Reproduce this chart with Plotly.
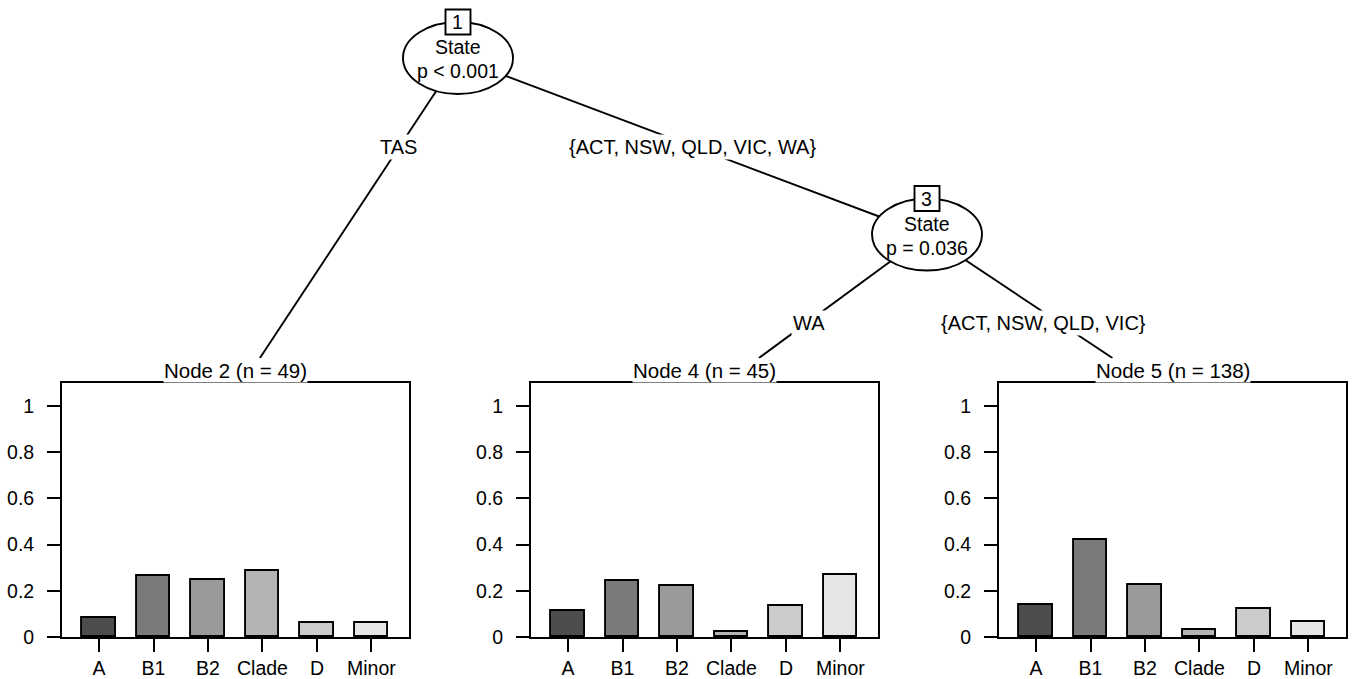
import plotly.graph_objects as go

W, H = 1355, 679          # reference picture size (layout coordinates)
FIG_H = 690               # rendered height (capture is compressed vertically to 679)

categories = ["A", "B1", "B2", "Clade", "D", "Minor"]
node2_props = [0.082, 0.265, 0.245, 0.286, 0.061, 0.061]
node4_props = [0.111, 0.244, 0.222, 0.022, 0.133, 0.267]
node5_props = [0.138, 0.420, 0.225, 0.029, 0.123, 0.065]
bar_colors = ["#4D4D4D", "#7A7A7A", "#9A9A9A", "#B4B4B4", "#CBCBCB", "#E6E6E6"]
panel_titles = ["Node 2 (n = 49)", "Node 4 (n = 45)", "Node 5 (n = 138)"]
y_ticks = [0, 0.2, 0.4, 0.6, 0.8, 1]
y_tick_text = ["0", "0.2", "0.4", "0.6", "0.8", "1"]

inner_nodes = [
    {"id": "1", "var": "State", "p": "p < 0.001", "cx": 458, "cy": 58},
    {"id": "3", "var": "State", "p": "p = 0.036", "cx": 927, "cy": 234.5},
]
edge_labels = ["TAS", "{ACT, NSW, QLD, VIC, WA}", "WA", "{ACT, NSW, QLD, VIC}"]

FONT = "Liberation Sans, Arial, Helvetica, sans-serif"
FS = 19.5
FS_LAB = 20
LW = 1.9


def fx(x):
    return x / W


def fy(y):
    return 1 - y / H


panel_left = [62, 531, 999]
panel_w = 347
panel_top, panel_bot = 383, 637

fig = go.Figure()
series = [node2_props, node4_props, node5_props]
for i, vals in enumerate(series):
    ax = "" if i == 0 else str(i + 1)
    fig.add_trace(go.Bar(
        x=categories, y=vals, width=0.62,
        marker=dict(color=bar_colors, line=dict(color="black", width=LW)),
        xaxis="x" + ax, yaxis="y" + ax, showlegend=False, hoverinfo="x+y",
    ))
    axis_common = dict(showline=True, mirror=True, linecolor="black", linewidth=LW,
                       ticks="outside", ticklen=13, tickwidth=LW, tickcolor="black",
                       showgrid=False, zeroline=False,
                       tickfont=dict(family=FONT, size=FS, color="black"))
    fig.update_layout(**{
        "xaxis" + ax: dict(domain=[fx(panel_left[i]), fx(panel_left[i] + panel_w)],
                           anchor="y" + ax, range=[-0.68, 5.69], type="category",
                           **axis_common),
        "yaxis" + ax: dict(domain=[fy(panel_bot), fy(panel_top)], anchor="x" + ax,
                           range=[0, 1.1], tickvals=y_ticks, ticktext=y_tick_text,
                           ticklabelstandoff=9, **axis_common),
    })

shapes = []
annotations = []

leaf_cx = [l + panel_w / 2 for l in panel_left]
n1, n3 = inner_nodes
edges = [
    ((n1["cx"], n1["cy"]), (leaf_cx[0], 395), True),
    ((n1["cx"], n1["cy"]), (n3["cx"], n3["cy"]), False),
    ((n3["cx"], n3["cy"]), (leaf_cx[1], 398), True),
    ((n3["cx"], n3["cy"]), (leaf_cx[2], 398), True),
]
for (p, c, clip) in edges:
    x1, y1 = c
    if clip:
        t = (358 - p[1]) / (c[1] - p[1])
        x1 = p[0] + t * (c[0] - p[0])
        y1 = 358
    shapes.append(dict(type="line", xref="paper", yref="paper",
                       x0=fx(p[0]), y0=fy(p[1]), x1=fx(x1), y1=fy(y1),
                       line=dict(color="black", width=LW)))

for nd in inner_nodes:
    cx, cy = nd["cx"], nd["cy"]
    shapes.append(dict(type="circle", xref="paper", yref="paper",
                       x0=fx(cx - 55), x1=fx(cx + 55), y0=fy(cy + 36), y1=fy(cy - 36),
                       fillcolor="white", line=dict(color="black", width=LW)))
    top = cy - 36
    shapes.append(dict(type="rect", xref="paper", yref="paper",
                       x0=fx(cx - 12.5), x1=fx(cx + 12.5), y0=fy(top + 12.5), y1=fy(top - 12.5),
                       fillcolor="white", line=dict(color="black", width=LW)))
    annotations.append(dict(x=fx(cx), y=fy(top), text=nd["id"], font_size=FS))
    annotations.append(dict(x=fx(cx), y=fy(cy - 10.5), text=nd["var"], font_size=FS))
    annotations.append(dict(x=fx(cx), y=fy(cy + 13.5), text=nd["p"], font_size=FS))

label_pos = [(398, 147), (692, 147), (809, 323), (1043, 323)]
for txt, (lx, ly) in zip(edge_labels, label_pos):
    annotations.append(dict(x=fx(lx), y=fy(ly), text=txt, bgcolor="white", borderpad=1,
                            font_size=FS_LAB))

for t, cx in zip(panel_titles, leaf_cx):
    annotations.append(dict(x=fx(cx), y=fy(371), text=t, bgcolor="white", borderpad=0,
                            font_size=20.5))

for a in annotations:
    size = a.pop("font_size")
    a.update(xref="paper", yref="paper", xanchor="center", yanchor="middle",
             showarrow=False, font=dict(family=FONT, size=size, color="black"))

fig.update_layout(
    width=W, height=FIG_H, margin=dict(l=0, r=0, t=0, b=0),
    paper_bgcolor="white", plot_bgcolor="white",
    shapes=shapes, annotations=annotations, bargap=0,
    font=dict(family=FONT, size=FS, color="black"),
)

page_reset = (
    "document.documentElement.style.margin='0';"
    "document.body.style.margin='0';"
    "document.documentElement.style.overflow='hidden';"
    "document.body.style.overflow='hidden';"
)
fig.write_html("out.html", post_script=page_reset, config={"displayModeBar": False})
